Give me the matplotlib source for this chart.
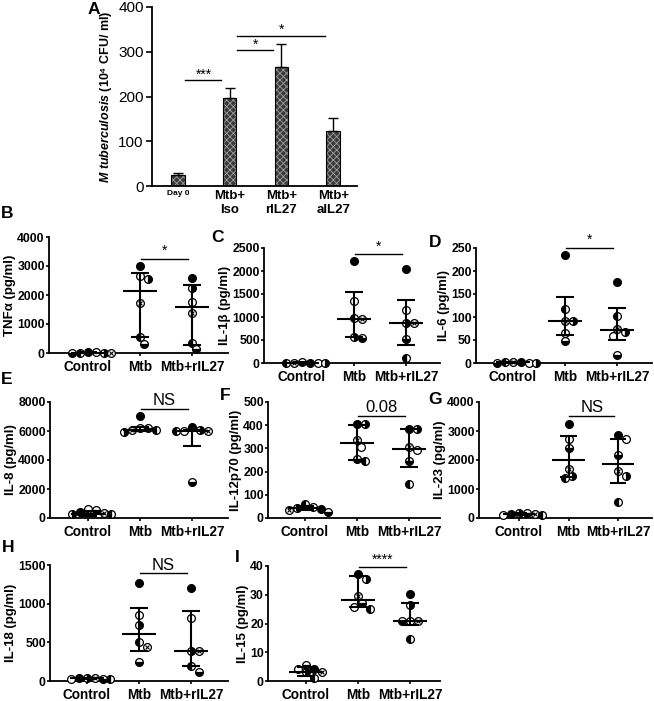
import numpy as np
import matplotlib
matplotlib.use('Agg')
import matplotlib.pyplot as plt

plt.rcParams['font.family'] = ['Liberation Sans', 'DejaVu Sans']
plt.rcParams['mathtext.fontset'] = 'custom'
plt.rcParams['mathtext.it'] = 'Liberation Sans:italic:bold'
plt.rcParams['mathtext.rm'] = 'Liberation Sans:bold'
plt.rcParams['hatch.linewidth'] = 0.6

# ---------------- data ----------------
A_GROUPS = ['Day 0', 'Mtb+\nIso', 'Mtb+\nrIL27', 'Mtb+\naIL27']
A_MEANS = [25, 197, 265, 122]
A_ERR = [5, 23, 52, 31]
A_SIG = [((0, 1), 236, '***'), ((1, 2), 303, '*'), ((1, 3), 335, '*')]

GROUPS = ['Control', 'Mtb', 'Mtb+rIL27']
# donor order: filled, open, right-half, crossed, left-half, bottom-half
TNF_VALUES = [[30, 20, 10, 0, 15, 5],
              [3005, 2659, 2544, 1733, 555, 326],
              [2600, 1768, 2232, 1366, 360, 128]]
TNF_SUMMARY = [[10, 0, 20], [2139, 555, 2752], [1574, 291, 2347]]

IL1B_VALUES = [[10, 5, 0, 8, 3, 12],
               [2207, 1348, 568, 948, 983, 533],
               [2048, 1152, 861, 861, 118, 511]]
IL1B_SUMMARY = [[5, 0, 12], [955, 568, 1552], [861, 402, 1370]]

IL6_VALUES = [[2, 1, 0, 3, 2, 1],
              [235, 65.6, 91, 91, 116.6, 48],
              [177, 59, 67.7, 73.6, 102, 16.8]]
IL6_SUMMARY = [[1.5, 0.5, 2.5], [91, 60.5, 144], [71.5, 49.6, 119]]

IL8_VALUES = [[416, 647, 254, 347, 250, 578],
              [7003, 6230, 5950, 6100, 6100, 6230],
              [6260, 6010, 6100, 6010, 6010, 2500]]
IL8_SUMMARY = [[300, 150, 450], [6100, 6000, 6280], [6000, 4970, 6050]]

IL12_VALUES = [[38, 48, 44, 35, 59, 28],
               [405, 308, 405, 337, 247, 256],
               [383, 293, 383, 308, 146, 247]]
IL12_SUMMARY = [[44, 36, 52], [325, 250, 402], [296, 221, 383]]

IL23_VALUES = [[150, 120, 180, 140, 100, 160],
               [3240, 2730, 1445, 1688, 1366, 2406],
               [2866, 2728, 1445, 1618, 555, 2173]]
IL23_SUMMARY = [[140, 110, 170], [2000, 1400, 2843], [1861, 1213, 2728]]

IL18_VALUES = [[35, 30, 40, 38, 25, 32],
               [1263, 853, 724, 444, 508, 250],
               [1207, 810, 392, 392, 194, 121]]
IL18_SUMMARY = [[33, 28, 38], [608, 388, 948], [392, 194, 905]]

IL15_VALUES = [[4.3, 4.3, 3.0, 3.0, 1.2, 5.7],
               [37.2, 25.8, 35.6, 29.4, 25.0, 27.1],
               [30.4, 21, 26.4, 21, 14.5, 21]]
IL15_SUMMARY = [[3, 1.8, 5], [28.1, 25.8, 36.5], [21, 19.4, 27.3]]

DONOR_STYLES = ['full', 'none', 'right', 'cross', 'left', 'bottom']

# ---------------- layout ----------------
W, H = 654, 701
fig = plt.figure(figsize=(W / 100, H / 100), dpi=100)


def add_ax(l, r, t, b):
    return fig.add_axes([l / W, 1 - b / H, (r - l) / W, (b - t) / H])


def style_spines(ax):
    for s in ['top', 'right']:
        ax.spines[s].set_visible(False)
    for s in ['left', 'bottom']:
        ax.spines[s].set_linewidth(1.3)


# ---------------- panel A ----------------
axA = add_ax(152, 357, 7, 186)
style_spines(axA)
xa = np.arange(len(A_GROUPS))
axA.bar(xa, A_MEANS, width=0.26, color='#3a3a3a', edgecolor='#a0a0a0',
        hatch='xxxxx', linewidth=0, zorder=2)
axA.bar(xa, A_MEANS, width=0.26, fill=False, edgecolor='black', linewidth=0.8, zorder=3)
axA.errorbar(xa, A_MEANS, yerr=[np.zeros(len(A_ERR)), A_ERR], fmt='none',
             ecolor='black', elinewidth=1.0, capsize=3.5, capthick=1.0, zorder=4)
axA.set_xlim(-0.5, 3.46)
axA.set_ylim(0, 400)
axA.set_yticks([0, 100, 200, 300, 400])
axA.tick_params(axis='y', labelsize=11, length=4, width=1.2, pad=2)
axA.set_xticks(xa)
axA.set_xticklabels(A_GROUPS, fontweight='bold', fontsize=9.5, linespacing=1.2)
axA.get_xticklabels()[0].set_fontsize(6)
axA.tick_params(axis='x', length=0, pad=3)
axA.set_ylabel(r'$\mathit{M\ tuberculosis}$ (10⁴ CFU/ ml)', fontsize=9,
               fontweight='bold', labelpad=3)
for (g0, g1), y, txt in A_SIG:
    axA.plot([g0 + 0.14, g1 - 0.16], [y, y], color='black', lw=1.0)
    axA.text((g0 + g1) / 2, y - 2, txt, ha='center', va='bottom', fontsize=10)


# ---------------- cytokine panels ----------------
MS = 5.6
D_PX = 7.8


def draw_marker(ax, x, y, style):
    kw = dict(marker='o', markersize=MS, markeredgecolor='black',
              markeredgewidth=0.9, linestyle='none', clip_on=False, zorder=3)
    if style == 'full':
        ax.plot([x], [y], markerfacecolor='black', **kw)
    elif style in ('none', 'cross'):
        ax.plot([x], [y], markerfacecolor='white', **kw)
        if style == 'cross':
            ax.plot([x], [y], marker='x', markersize=MS * 0.62, markeredgecolor='black',
                    markeredgewidth=0.8, linestyle='none', clip_on=False, zorder=3)
    else:
        ax.plot([x], [y], fillstyle=style, markerfacecolor='black',
                markerfacecoloralt='white', **kw)


def swarm_x(ax, xc, ys):
    ys = np.asarray(ys, float)
    P = ax.transData.transform(np.column_stack([np.full(len(ys), float(xc)), ys]))
    cands = [0.0]
    for k in range(1, 16):
        cands += [k * D_PX * 0.5, -k * D_PX * 0.5]
    placed = []
    out_px = np.zeros(len(ys))
    for i in np.argsort(-ys):
        px, py = P[i]
        for c in cands:
            ok = all((px + c - qx) ** 2 + (py - qy) ** 2 >= (0.95 * D_PX) ** 2
                     for qx, qy in placed)
            if ok:
                placed.append((px + c, py))
                out_px[i] = px + c
                break
    inv = ax.transData.inverted()
    return inv.transform(np.column_stack([out_px, P[:, 1]]))[:, 0]


def cyto_panel(box, c0, values, summary, yticks, ylabel, sig_y, sig_txt,
               sig_size=10, spacing=52.0):
    l, r, t, b = box
    ax = add_ax(l, r, t, b)
    style_spines(ax)
    ax.set_xlim((l - c0) / spacing, (r - c0) / spacing)
    ax.set_ylim(0, yticks[-1])
    ax.set_yticks(yticks)
    ax.set_xticks(range(len(GROUPS)))
    ax.set_xticklabels(GROUPS, fontweight='bold', fontsize=9.8)
    ax.tick_params(axis='both', length=2.5, width=1.2, pad=1)
    ax.tick_params(axis='x', pad=2.5)
    ax.tick_params(axis='y', labelsize=8.8, pad=0.5)
    for lab in ax.get_yticklabels():
        lab.set_fontweight('bold')
    ax.set_ylabel(ylabel, fontsize=9.5, fontweight='bold', labelpad=1)
    for gi, (vals, (cen, lo, hi)) in enumerate(zip(values, summary)):
        xs = swarm_x(ax, gi, vals)
        for x, y, st in zip(xs, vals, DONOR_STYLES):
            draw_marker(ax, x, y, st)
        lk = dict(color='black', lw=1.5, zorder=4, clip_on=False, solid_capstyle='butt')
        ax.plot([gi - 0.33, gi + 0.33], [cen, cen], **lk)
        ax.plot([gi, gi], [lo, hi], **lk)
        ax.plot([gi - 0.17, gi + 0.17], [lo, lo], **lk)
        ax.plot([gi - 0.17, gi + 0.17], [hi, hi], **lk)
    ax.plot([1.02, 1.92], [sig_y, sig_y], color='black', lw=1.0, clip_on=False)
    ax.text(1.47, sig_y + yticks[-1] * 0.005, sig_txt, ha='center', va='bottom',
            fontsize=sig_size)
    return ax


cyto_panel((49, 228, 237, 353), 88, TNF_VALUES, TNF_SUMMARY,
           [0, 1000, 2000, 3000, 4000], 'TNFα (pg/ml)', 3248, '*')
cyto_panel((264, 440, 248, 363), 302, IL1B_VALUES, IL1B_SUMMARY,
           [0, 500, 1000, 1500, 2000, 2500], 'IL-1β (pg/ml)', 2369, '*')
cyto_panel((476, 652, 248, 363), 513, IL6_VALUES, IL6_SUMMARY,
           [0, 50, 100, 150, 200, 250], 'IL-6 (pg/ml)', 251, '*')
cyto_panel((50, 228, 402, 518), 88, IL8_VALUES, IL8_SUMMARY,
           [0, 2000, 4000, 6000, 8000], 'IL-8 (pg/ml)', 7535, 'NS', 12)
cyto_panel((268, 440, 402, 518), 305, IL12_VALUES, IL12_SUMMARY,
           [0, 100, 200, 300, 400, 500], 'IL-12p70 (pg/ml)', 440.6, '0.08', 12)
cyto_panel((479, 652, 402, 518), 519, IL23_VALUES, IL23_SUMMARY,
           [0, 1000, 2000, 3000, 4000], 'IL-23 (pg/ml)', 3525, 'NS', 12,
           spacing=49.5)
cyto_panel((50, 228, 565, 681), 87, IL18_VALUES, IL18_SUMMARY,
           [0, 500, 1000, 1500], 'IL-18 (pg/ml)', 1393, 'NS', 12)
cyto_panel((268, 440, 566, 681), 306, IL15_VALUES, IL15_SUMMARY,
           [0, 10, 20, 30, 40], 'IL-15 (pg/ml)', 39.7, '****')

# panel letters
for letter, (px, py) in {'A': (94, 10), 'B': (7, 213), 'C': (217, 237), 'D': (435, 242),
                         'E': (7, 379), 'F': (225, 395), 'G': (435, 399),
                         'H': (8, 547), 'I': (237, 558)}.items():
    fig.text(px / W, 1 - py / H, letter, ha='center', va='center',
             fontsize=12.5, fontweight='bold')

fig.savefig('out.png', dpi=100)
